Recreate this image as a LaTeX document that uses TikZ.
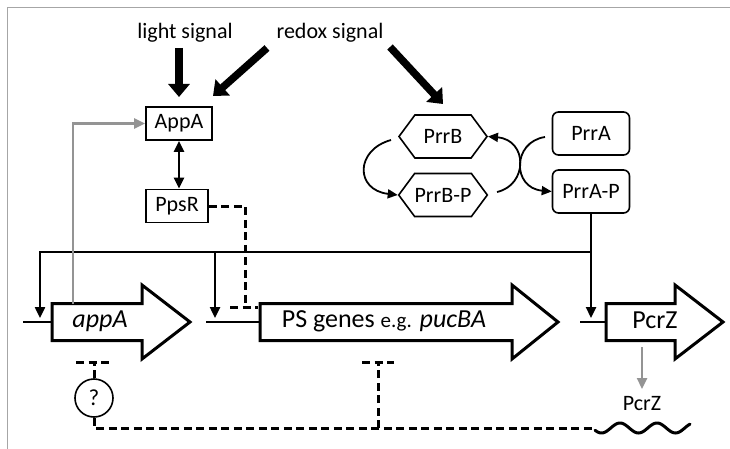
\documentclass[tikz,border=0pt]{standalone}
\usepackage{fontspec}
\setmainfont{Carlito}
\usetikzlibrary{arrows.meta,shapes.symbols}
\begin{document}
\begin{tikzpicture}[x=1pt,y=-1pt,
  lbl/.style={font=\fontsize{22}{26}\selectfont, inner sep=0pt},
  protbox/.style={draw, line width=1.6pt, inner sep=0pt, minimum height=33pt,
    font=\fontsize{22}{26}\selectfont},
  rbox/.style={protbox, rounded corners=6pt, minimum width=77pt, minimum height=43pt},
  hexa/.style={draw, line width=1.6pt, shape=signal, signal to=west and east,
    signal pointer angle=107, minimum width=88pt, minimum height=43pt, inner sep=0pt,
    font=\fontsize{22}{26}\selectfont},
  conn/.style={line width=2.4pt, -{Triangle[width=10pt,length=11pt]}},
  gconn/.style={conn, color=black!42},
  cconn/.style={line width=1.8pt, -{Triangle[width=9pt,length=10pt]}},
  sigarrow/.style={line width=7.5pt, -{Triangle[width=21pt,length=13pt]}},
  rep/.style={line width=3pt, dash pattern=on 8pt off 4.5pt},
  gene/.style={draw, line width=3pt, fill=white, line join=miter},
  promoter/.style={line width=2.6pt},
  genelbl/.style={font=\fontsize{26}{30}\selectfont, inner sep=0pt}
]
\useasboundingbox (0,0) rectangle (730,449);
% frame
\draw[black!35, line width=1.5pt] (7.5,449) -- (7.5,7.5) -- (730,7.5);

% signals
\node[lbl] (light) at (185,33) {light signal};
\node[lbl] (redox) at (330,33) {redox signal};

% proteins
\node[protbox, minimum width=66pt] (appa) at (179,123.5) {AppA};
\node[protbox, minimum width=62pt] (ppsr) at (177,206) {PpsR};
\node[hexa] (prrb) at (443,136.5) {PrrB};
\node[hexa] (prrbp) at (443,195) {PrrB-P};
\node[rbox] (prra) at (591,133.5) {PrrA};
\node[rbox] (prrap) at (591,191.5) {PrrA-P};

% signal arrows
\coordinate (lightA) at (179,48);
\coordinate (lightB) at (179,97);
\coordinate (redoxA1) at (267,48);
\coordinate (redoxB1) at (213,96);
\coordinate (redoxA2) at (390,47);
\coordinate (redoxB2) at (443,104);
\draw[sigarrow] (lightA) -- (lightB);
\draw[sigarrow] (redoxA1) -- (redoxB1);
\draw[sigarrow] (redoxA2) -- (redoxB2);

% AppA <-> PpsR
\draw[line width=2.4pt, {Triangle[width=10pt,length=11pt]}-{Triangle[width=10pt,length=11pt]}]
  (appa.south) -- (ppsr.north -| appa.south);

% phosphorelay
\coordinate (bout) at (391,140);
\coordinate (bpout) at (497,192);
\coordinate (aout) at (545,137);
\draw[cconn] (bout) .. controls (355,150) and (355,190) .. (prrbp.west);
\draw[cconn] (bpout) .. controls (528,185) and (528,140) .. (prrb.east);
\draw[cconn] (aout) .. controls (512,142) and (512,188) .. (prrap.west);

% genes
\coordinate (appAprom) at (23,322);
\coordinate (appAstart) at (52,322);
\coordinate (psprom) at (206,322);
\coordinate (psstart) at (260,322);
\coordinate (zprom) at (580,322);
\coordinate (zstart) at (606,322);
\draw[promoter] (appAprom) -- (appAstart);
\draw[promoter] (psprom) -- (psstart);
\draw[promoter] (zprom) -- (zstart);
\draw[gene] (52,303.5) -- (142,303.5) -- (142,285) -- (190,322) -- (142,359)
  -- (142,340.5) -- (52,340.5) -- cycle;
\draw[gene] (260,303.5) -- (512,303.5) -- (512,285) -- (558,322) -- (512,359)
  -- (512,340.5) -- (260,340.5) -- cycle;
\draw[gene] (606,303.5) -- (675,303.5) -- (675,285) -- (723,322) -- (675,359)
  -- (675,340.5) -- (606,340.5) -- cycle;
\node[genelbl] (appAlbl) at (100,321) {\itshape appA};
\node[genelbl] (pslbl) at (384,321) {PS genes {\fontsize{21}{24}\selectfont e.g.} \itshape pucBA};
\node[genelbl] (pcrzlbl) at (655,320) {PcrZ};

% PrrA-P activation bus
\coordinate (busR) at (591,252);
\coordinate (busL) at (40,252);
\coordinate (busM) at (215,252);
\coordinate (tipA) at (40,318);
\coordinate (tipPS) at (215,318);
\coordinate (tipZ) at (591,318);
\draw[conn] (busR) -- (busL) -- (tipA);
\draw[conn] (busM) -- (tipPS);
\draw[conn] (prrap.south) -- (tipZ);

% appA product feeds AppA
\coordinate (appAtop) at (73,303.5);
\draw[gconn] (appAtop) |- (appa.west);

% PpsR repression of PS genes
\coordinate (psbar) at (245,307);
\coordinate (psbarL) at (230,307);
\coordinate (psbarR) at (258,307);
\draw[rep] (ppsr.east) -| (psbar);
\draw[rep] (psbarL) -- (psbarR);

% PcrZ product and sRNA
\coordinate (zbot) at (642,347);
\coordinate (zarr) at (642,389);
\draw[gconn] (zbot) -- (zarr);
\node[lbl] (pcrzprot) at (642,404) {PcrZ};
\coordinate (wave) at (595,428);
\draw[line width=3pt, line cap=round] plot[domain=0:95, samples=80]
  ({595+\x}, {428 - 5*sin((\x-15.75)*9.73)});

% unknown factor
\node[draw, circle, line width=1.6pt, minimum size=38pt, inner sep=0pt,
  font=\fontsize{23}{26}\selectfont] (q) at (94,398) {?};
\coordinate (qbar) at (94,362);
\coordinate (qbarL) at (76,362);
\coordinate (qbarR) at (110,362);
\draw[rep] (q.north) -- (qbar);
\draw[rep] (qbarL) -- (qbarR);
\draw[rep] (q.south) |- (wave);
\coordinate (psbar2) at (378,362);
\coordinate (psbar2L) at (362,362);
\coordinate (psbar2R) at (394,362);
\coordinate (psline) at (378,428);
\draw[rep] (psline) -- (psbar2);
\draw[rep] (psbar2L) -- (psbar2R);
\end{tikzpicture}
\end{document}
